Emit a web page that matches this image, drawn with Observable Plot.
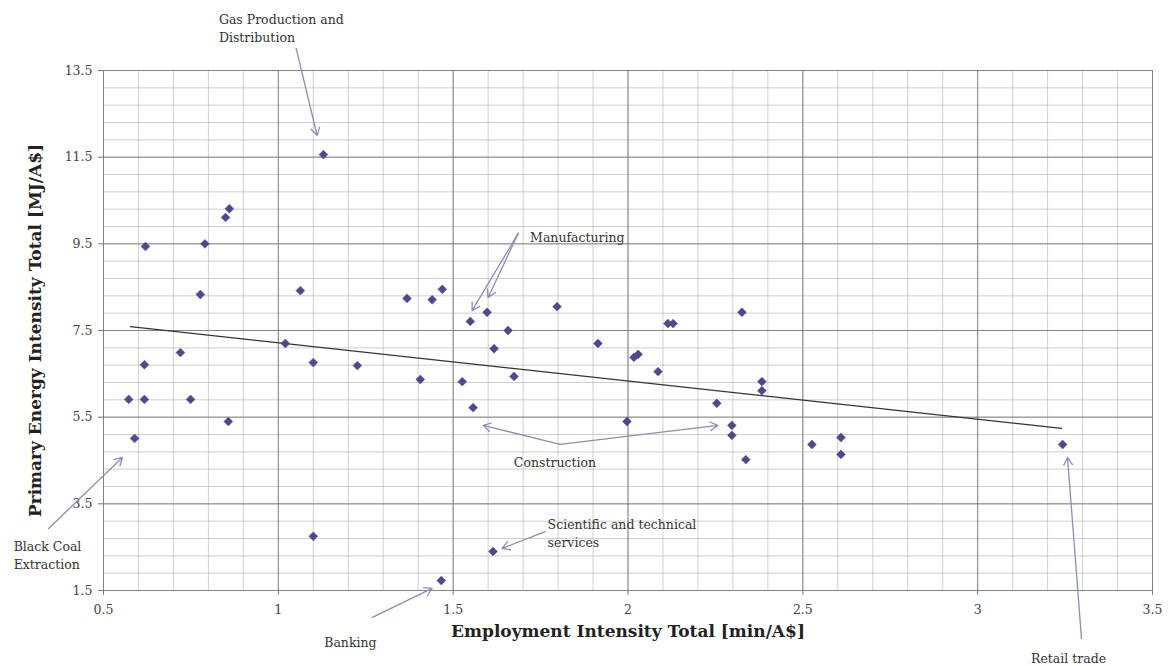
<!DOCTYPE html>
<html>
<head>
<meta charset="utf-8">
<script src="https://cdn.jsdelivr.net/npm/d3@7"></script>
<script src="https://cdn.jsdelivr.net/npm/@observablehq/plot@0.6"></script>
<style>
  html, body { margin: 0; padding: 0; background: #fff; }
</style>
</head>
<body>
<div id="chart"></div>
<script>
// ---- data ----
const empIntensity = [0.62, 0.79, 0.849, 0.86, 0.777, 1.02, 0.72, 0.617, 0.572, 0.617, 0.749, 0.857, 0.589,
  1.129, 1.063, 1.10, 1.10, 1.226, 1.368, 1.44, 1.469, 1.549, 1.597, 1.657, 1.617, 1.797, 1.914, 2.017, 2.029,
  2.086, 2.114, 2.129, 1.406, 1.526, 1.674, 1.557, 1.997, 2.326, 2.383, 2.383, 2.254, 2.297, 2.297, 2.337,
  2.526, 2.609, 2.609, 3.243, 1.614, 1.466];
const energyIntensity = [9.44, 9.5, 10.11, 10.31, 8.33, 7.2, 6.99, 6.71, 5.91, 5.91, 5.91, 5.40, 5.01,
  11.56, 8.42, 6.76, 2.75, 6.69, 8.24, 8.21, 8.45, 7.71, 7.92, 7.5, 7.08, 8.05, 7.2, 6.88, 6.95,
  6.55, 7.66, 7.66, 6.37, 6.32, 6.44, 5.72, 5.40, 7.92, 6.32, 6.11, 5.82, 5.31, 5.08, 4.52,
  4.87, 5.03, 4.64, 4.87, 2.40, 1.73];

const trendX = [0.577, 3.24];
const trendY = [7.59, 5.24];

const xTicks = [0.5, 1, 1.5, 2, 2.5, 3, 3.5];
const yTicks = [1.5, 3.5, 5.5, 7.5, 9.5, 11.5, 13.5];

const xTitle = "Employment Intensity Total [min/A$]";
const yTitle = "Primary Energy Intensity Total [MJ/A$]";

// annotations (data units)
const noteText   = ["Gas Production and\nDistribution", "Manufacturing", "Construction",
                    "Scientific and technical\nservices", "Banking", "Black Coal\nExtraction", "Retail trade"];
const noteX      = [0.83, 1.72, 1.791, 1.77, 1.206, 0.243, 3.26];
const noteY      = [14.86, 9.83, 4.64, 3.21, 0.48, 2.7, 0.115];
const noteAnchor = ["start", "start", "middle", "start", "middle", "start", "middle"];

const arrowX1 = [1.051, 1.686, 1.686, 1.806, 1.806, 1.763, 1.269, 0.343, 3.297];
const arrowY1 = [14.01, 9.74, 9.74, 4.87, 4.87, 2.86, 0.88, 2.93, 0.39];
const arrowX2 = [1.111, 1.554, 1.60, 1.586, 2.257, 1.64, 1.44, 0.554, 3.257];
const arrowY2 = [12.0, 7.96, 8.26, 5.31, 5.31, 2.47, 1.55, 4.57, 4.57];

// ---- build tables ----
const points = empIntensity.map((x, i) => ({x, y: energyIntensity[i]}));
const trend = trendX.map((x, i) => ({x, y: trendY[i]}));
const notes = noteText.map((t, i) => ({text: t, x: noteX[i], y: noteY[i], anchor: noteAnchor[i]}));
const arrows = arrowX1.map((x1, i) => ({x1, y1: arrowY1[i], x2: arrowX2[i], y2: arrowY2[i]}));

const minorX = d3.range(0, 31).map(i => 0.5 + i * 0.1);
const minorY = d3.range(0, 31).map(i => 1.5 + i * 0.4);

const serif = "'DejaVu Serif', 'Liberation Serif', serif";
const noteStyle = {x: "x", y: "y", text: "text", lineAnchor: "top", lineHeight: 1.44, fontSize: 12.5, fill: "#333"};

const chart = Plot.plot({
  width: 1169,
  height: 666,
  marginLeft: 103,
  marginRight: 17,
  marginTop: 70,
  marginBottom: 76,
  style: {fontFamily: serif, fontSize: "12.5px", background: "#fff", color: "#444", overflow: "visible"},
  x: {domain: [0.5, 3.5]},
  y: {domain: [1.5, 13.5]},
  marks: [
    Plot.gridX(minorX, {stroke: "#aaa", strokeOpacity: 0.55, strokeWidth: 1}),
    Plot.gridY(minorY, {stroke: "#aaa", strokeOpacity: 0.55, strokeWidth: 1}),
    Plot.gridX(xTicks, {stroke: "#777", strokeOpacity: 0.85, strokeWidth: 1}),
    Plot.gridY(yTicks, {stroke: "#777", strokeOpacity: 0.85, strokeWidth: 1}),
    Plot.axisX(xTicks, {tickSize: 5, tickPadding: 10, label: null, stroke: "#777", fill: "#444", tickFormat: d => String(d)}),
    Plot.axisY(yTicks, {tickSize: 5, tickPadding: 6, label: null, stroke: "#777", fill: "#444", tickFormat: d => String(d)}),
    Plot.line(trend, {x: "x", y: "y", stroke: "#333", strokeWidth: 1.3}),
    Plot.dot(points, {x: "x", y: "y", symbol: "diamond2", r: 4, fill: "#4a4a8c", stroke: "#4a4a8c", strokeWidth: 0.5}),
    Plot.arrow(arrows, {x1: "x1", y1: "y1", x2: "x2", y2: "y2", stroke: "#8a8fb5", strokeWidth: 1.3, headLength: 10, bend: 0}),
    Plot.text(notes.filter(d => d.anchor === "start"), {...noteStyle, textAnchor: "start"}),
    Plot.text(notes.filter(d => d.anchor === "middle"), {...noteStyle, textAnchor: "middle"}),
    Plot.text([xTitle], {frameAnchor: "bottom", dy: 46, fontWeight: "bold", fontSize: 17, fill: "#222"}),
    Plot.text([yTitle], {frameAnchor: "left", dx: -68, rotate: -90, textAnchor: "middle", fontWeight: "bold", fontSize: 17, fill: "#222"})
  ]
});
document.getElementById("chart").appendChild(chart);
</script>
</body>
</html>
